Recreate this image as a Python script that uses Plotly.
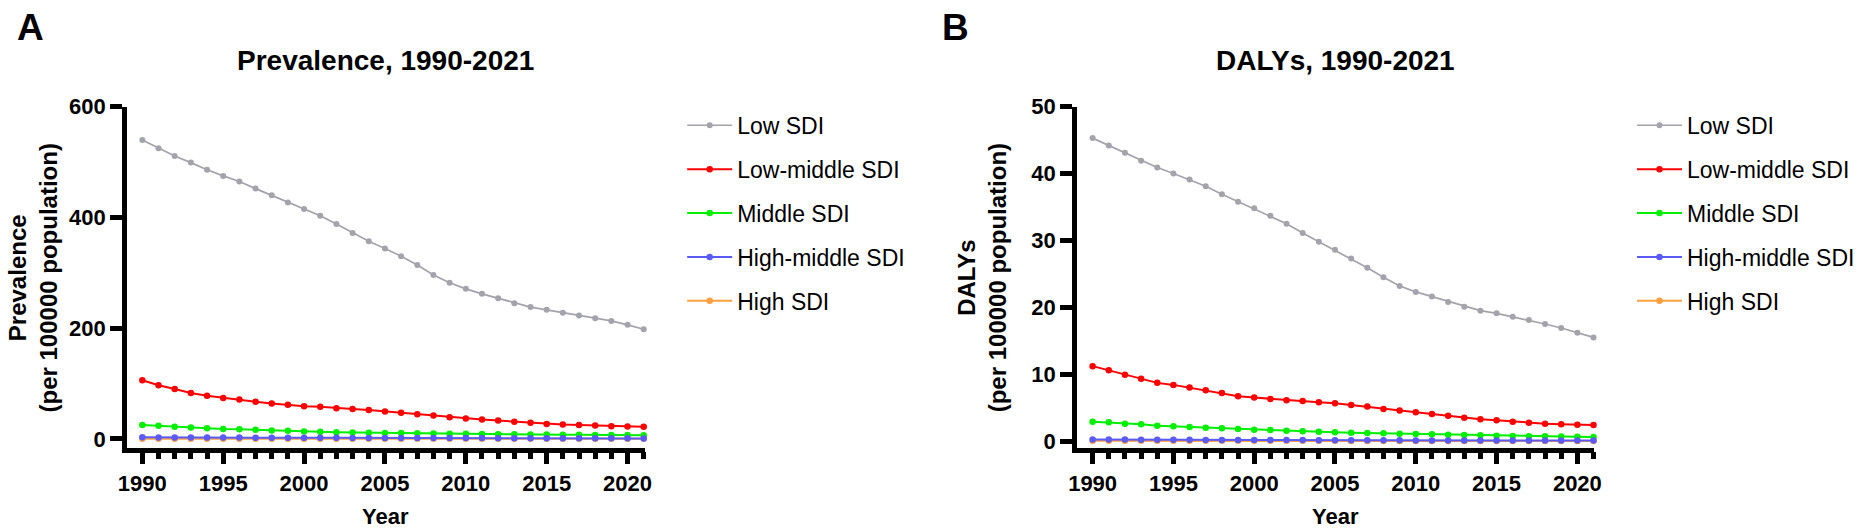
import plotly.graph_objects as go

W, H = 1871, 532

years = list(range(1990, 2022))
series_names = ["Low SDI", "Low-middle SDI", "Middle SDI", "High-middle SDI", "High SDI"]
series_colors = ["#A3A3AB", "#FF0000", "#00EE00", "#5A5AF5", "#FFA040"]

# Panel A: Prevalence (per 100000 population)
prev_low = [540, 525, 511, 499, 486, 475, 465, 452, 440, 427, 415,
            403, 388, 372, 357, 344, 330, 314, 296, 282, 271,
            262, 254, 245, 238, 233, 228, 223, 218, 213, 206, 198]
prev_lowmid = [106, 97, 90, 83, 78, 74, 71, 67, 64, 61.5, 59,
               58, 55.5, 54, 52, 49.5, 47, 44.6, 42, 39, 37,
               35, 33, 31, 29, 27, 26, 25, 24, 23, 22.5, 22]
prev_mid = [25, 23.5, 22, 20.5, 19.3, 18, 17.5, 16.3, 15, 14.5, 13.3,
            12.7, 12, 11.6, 11.2, 10.8, 10.4, 10.0, 9.7, 9.4, 9.1,
            8.8, 8.5, 8.2, 7.9, 7.7, 7.5, 7.3, 7.1, 6.9, 6.8, 6.7]
prev_highmid = [2.9, 2.7, 2.6, 2.5, 2.4, 2.4, 2.3, 2.2, 2.1, 2.1, 2.0,
                1.9, 1.9, 1.8, 1.8, 1.7, 1.7, 1.6, 1.5, 1.5, 1.4,
                1.4, 1.3, 1.3, 1.2, 1.2, 1.1, 1.1, 1.1, 1.0, 1.0, 0.9]
prev_high = [0.4, 0.4, 0.4, 0.4, 0.35, 0.35, 0.35, 0.3, 0.3, 0.3, 0.3,
             0.3, 0.25, 0.25, 0.25, 0.25, 0.25, 0.2, 0.2, 0.2, 0.2,
             0.2, 0.2, 0.2, 0.15, 0.15, 0.15, 0.15, 0.15, 0.15, 0.15, 0.15]

# Panel B: DALYs (per 100000 population)
daly_low = [45.3, 44.2, 43.1, 41.9, 40.9, 40.0, 39.1, 38.1, 36.9, 35.8, 34.8,
            33.7, 32.5, 31.1, 29.8, 28.6, 27.3, 25.9, 24.5, 23.2, 22.3,
            21.6, 20.8, 20.1, 19.5, 19.1, 18.6, 18.1, 17.5, 16.9, 16.2, 15.5]
daly_lowmid = [11.2, 10.6, 9.9, 9.3, 8.7, 8.4, 8.0, 7.6, 7.2, 6.7, 6.5,
               6.3, 6.1, 6.0, 5.8, 5.65, 5.4, 5.15, 4.8, 4.55, 4.3,
               4.06, 3.77, 3.5, 3.27, 3.1, 2.9, 2.75, 2.6, 2.5, 2.45, 2.4]
daly_mid = [2.9, 2.8, 2.6, 2.5, 2.3, 2.2, 2.1, 2.0, 1.9, 1.8, 1.7,
            1.65, 1.55, 1.45, 1.4, 1.3, 1.25, 1.2, 1.15, 1.1, 1.05,
            1.0, 0.95, 0.9, 0.85, 0.8, 0.77, 0.73, 0.7, 0.67, 0.64, 0.62]
daly_highmid = [0.24, 0.23, 0.22, 0.21, 0.2, 0.19, 0.18, 0.17, 0.17, 0.16, 0.15,
                0.15, 0.14, 0.14, 0.13, 0.13, 0.12, 0.12, 0.11, 0.11, 0.1,
                0.1, 0.1, 0.09, 0.09, 0.09, 0.08, 0.08, 0.08, 0.08, 0.07, 0.07]
daly_high = [0.03, 0.03, 0.03, 0.03, 0.03, 0.03, 0.03, 0.03, 0.03, 0.03, 0.03,
             0.03, 0.03, 0.03, 0.03, 0.03, 0.02, 0.02, 0.02, 0.02, 0.02,
             0.02, 0.02, 0.02, 0.02, 0.02, 0.02, 0.02, 0.02, 0.02, 0.02, 0.02]

panel_titles = ["Prevalence, 1990-2021", "DALYs, 1990-2021"]
panel_letters = ["A", "B"]
y_titles = ["Prevalence<br>(per 100000 population)",
            "DALYs<br>(per 100000 population)"]

FONT = "Liberation Sans, Arial, Helvetica, sans-serif"

def px_x(p):
    return p / W

def px_y(p):
    return 1 - p / H

fig = go.Figure()

panels = [
    ([prev_low, prev_lowmid, prev_mid, prev_highmid, prev_high], "x", "y", "legend"),
    ([daly_low, daly_lowmid, daly_mid, daly_highmid, daly_high], "x2", "y2", "legend2"),
]
line_widths = [1.7, 2, 2, 2, 2]
marker_sizes = [6, 6.5, 6.5, 6.5, 6.5]
draw_order = [0, 1, 2, 4, 3]  # orange beneath blue
for data, xa, ya, lg in panels:
    for i in draw_order:
        fig.add_trace(go.Scatter(
            x=years, y=data[i], name=series_names[i], mode="lines+markers",
            line=dict(color=series_colors[i], width=line_widths[i]),
            marker=dict(color=series_colors[i], size=marker_sizes[i]),
            xaxis=xa, yaxis=ya, legend=lg, legendgroup=lg + str(i),
            legendrank=i + 1, cliponaxis=False,
        ))

tickfont = dict(family=FONT, size=22, color="black", weight="bold")

def xaxis_cfg(dom, rng, anchor):
    return dict(domain=dom, range=rng, showline=True, linewidth=4.5, linecolor="black",
                showgrid=False, zeroline=False, ticks="outside", ticklen=12, tickwidth=4.5,
                tickcolor="black", tick0=1990, dtick=5, tickfont=tickfont, anchor=anchor,
                minor=dict(dtick=1, ticks="outside", ticklen=7, tickwidth=4.5, tickcolor="black",
                           showgrid=False),
                fixedrange=True)

def yaxis_cfg(dom, rng, dt, anchor):
    return dict(domain=dom, range=rng, showline=True, linewidth=4.5, linecolor="black",
                showgrid=False, zeroline=False, ticks="outside", ticklen=12, tickwidth=4.5,
                tickcolor="black", dtick=dt, tick0=0, tickfont=tickfont, anchor=anchor,
                fixedrange=True)

ydom = [px_y(451), px_y(98)]
legend_font = dict(family=FONT, size=23, color="black")
fig.update_layout(
    width=W, height=H,
    margin=dict(l=0, r=0, t=0, b=0),
    paper_bgcolor="white", plot_bgcolor="white",
    font=dict(family=FONT, color="black"),
    xaxis=xaxis_cfg([px_x(119), px_x(641)], [1989.05, 2021.05], "y"),
    yaxis=yaxis_cfg(ydom, [-16.0, 600], 200, "x"),
    xaxis2=xaxis_cfg([px_x(1077), px_x(1599)], [1989.02, 2021.05], "y2"),
    yaxis2=yaxis_cfg(ydom, [-1.0, 50], 10, "x2"),
    legend=dict(x=px_x(679), y=px_y(95), xanchor="left", yanchor="top",
                font=legend_font, itemwidth=45,
                traceorder="grouped", tracegroupgap=11, bgcolor="rgba(0,0,0,0)"),
    legend2=dict(x=px_x(1637), y=px_y(95), xanchor="left", yanchor="top",
                 font=legend_font, itemwidth=45,
                 traceorder="grouped", tracegroupgap=11, bgcolor="rgba(0,0,0,0)"),
)

annotations = []
centers = [(119 + 641) / 2, (1077 + 1599) / 2]
letter_x = [6, 939]
ytitle_x = [24, 981]
for k in range(2):
    annotations.append(dict(text=panel_titles[k], x=px_x(centers[k]), y=px_y(50),
                            xref="paper", yref="paper", xanchor="center", yanchor="middle",
                            showarrow=False, font=dict(family=FONT, size=28, weight="bold")))
    annotations.append(dict(text="Year", x=px_x(centers[k]), y=px_y(522),
                            xref="paper", yref="paper", xanchor="center", yanchor="middle",
                            showarrow=False, font=dict(family=FONT, size=22, weight="bold")))
    annotations.append(dict(text=panel_letters[k], x=px_x(letter_x[k]), y=px_y(16),
                            xref="paper", yref="paper", xanchor="left", yanchor="middle",
                            showarrow=False, font=dict(family=FONT, size=37, weight="bold")))
    annotations.append(dict(text=y_titles[k], x=px_x(ytitle_x[k]), y=px_y(275),
                            xref="paper", yref="paper", xanchor="center", yanchor="middle",
                            textangle=-90, showarrow=False,
                            font=dict(family=FONT, size=24, weight="bold")))
fig.update_layout(annotations=annotations)

fig.write_html("out.html", config={"displayModeBar": False},
               post_script="document.body.style.margin='0';document.body.style.overflow='hidden';")
